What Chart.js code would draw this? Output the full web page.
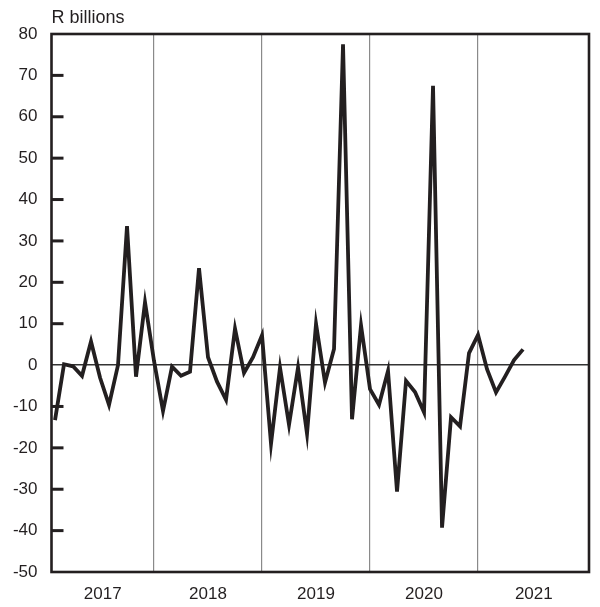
<!DOCTYPE html>
<html>
<head>
<meta charset="utf-8">
<script src="https://cdn.jsdelivr.net/npm/chart.js@4/dist/chart.umd.min.js"></script>
<style>
  html, body { margin: 0; padding: 0; background: #fff; }
  canvas { display: block; }
</style>
</head>
<body>
<canvas id="chart" width="600" height="607"></canvas>
<script>
// monthly values, Jan 2017 .. May 2021 (R billions)
const values = [
    -13.3, 0.2, -0.3, -2.6, 5.7, -3, -9.6, 0, 33.6, -2.8, 15.2, 1,
    -11.1, -0.4, -2.6, -1.6, 23.4, 1.9, -4, -8.4, 8.8, -1.9, 1.9, 7.2,
    -19, -0.6, -14.4, -0.6, -16.6, 10, -4.2, 3.9, 77.5, -13.1, 9.6, -5.8,
    -9.6, -1.4, -30.6, -3.8, -6.5, -11.4, 67.5, -39.3, -12.6, -14.8, 2.9, 7.3,
    -1, -6.6, -2.8, 1.2, 3.8
];
// x position of each value in months since start of 2017 (month end)
const monthPos = values.map((v, i) => i + 1);

const yearLabels = ['2017', '2018', '2019', '2020', '2021'];
const yearLabelPos = [6.3, 18, 30, 42, 54.2];
const yearBounds = [12, 24, 36, 48];
const yTicks = [80, 70, 60, 50, 40, 30, 20, 10, 0, -10, -20, -30, -40, -50];

const FONT = "'Liberation Sans', Arial, Helvetica, sans-serif";
const INK = '#231f20';

// frame, inner tick marks and unit label
const framePlugin = {
    id: 'frame',
    afterDatasetsDraw(chart) {
        const ctx = chart.ctx;
        const a = chart.chartArea;
        const y = chart.scales.y;
        ctx.save();
        ctx.strokeStyle = INK;
        ctx.lineWidth = 3;
        yTicks.forEach(v => {
            if (v === 0 || v === 80 || v === -50) return;
            const py = y.getPixelForValue(v);
            ctx.beginPath();
            ctx.moveTo(a.left, py);
            ctx.lineTo(a.left + 12, py);
            ctx.stroke();
        });
        ctx.lineWidth = 2.6;
        ctx.strokeRect(a.left, a.top, a.right - a.left, a.bottom - a.top);
        ctx.fillStyle = INK;
        ctx.font = '18px ' + FONT;
        ctx.textAlign = 'left';
        ctx.textBaseline = 'middle';
        ctx.fillText('R billions', a.left, 18);
        ctx.restore();
    }
};

new Chart(document.getElementById('chart').getContext('2d'), {
    type: 'line',
    data: {
        datasets: [{
            data: values.map((v, i) => ({ x: monthPos[i], y: v })),
            borderColor: INK,
            borderWidth: 3.8,
            borderJoinStyle: 'miter',
            pointRadius: 0,
            tension: 0,
            fill: false
        }]
    },
    options: {
        responsive: false,
        animation: false,
        layout: {
            padding: { top: 34, right: 11, left: 0, bottom: 0 }
        },
        plugins: {
            legend: { display: false },
            tooltip: { enabled: false }
        },
        scales: {
            x: {
                type: 'linear',
                min: 0.61,
                max: 60.33,
                afterBuildTicks: (scale) => {
                    scale.ticks = yearLabelPos.concat(yearBounds)
                        .sort((a, b) => a - b)
                        .map(v => ({ value: v }));
                },
                afterFit: (scale) => { scale.height = 35; },
                border: { display: false },
                grid: {
                    drawTicks: false,
                    color: (c) => yearBounds.includes(c.tick && c.tick.value) ? '#8a8a8a' : 'rgba(0,0,0,0)',
                    lineWidth: 1.2
                },
                ticks: {
                    autoSkip: false,
                    maxRotation: 0,
                    padding: 12,
                    color: INK,
                    font: { family: FONT, size: 17 },
                    callback: (value) => {
                        const i = yearLabelPos.indexOf(value);
                        return i >= 0 ? yearLabels[i] : '';
                    }
                }
            },
            y: {
                min: -50,
                max: 80,
                afterBuildTicks: (scale) => {
                    scale.ticks = yTicks.map(v => ({ value: v }));
                },
                afterFit: (scale) => { scale.width = 51.5; },
                border: { display: false },
                grid: {
                    drawTicks: false,
                    color: (c) => (c.tick && c.tick.value === 0) ? '#333' : 'rgba(0,0,0,0)',
                    lineWidth: 1.5
                },
                ticks: {
                    padding: 14,
                    color: INK,
                    font: { family: FONT, size: 17 },
                    callback: (value) => String(value)
                }
            }
        }
    },
    plugins: [framePlugin]
});
</script>
</body>
</html>
